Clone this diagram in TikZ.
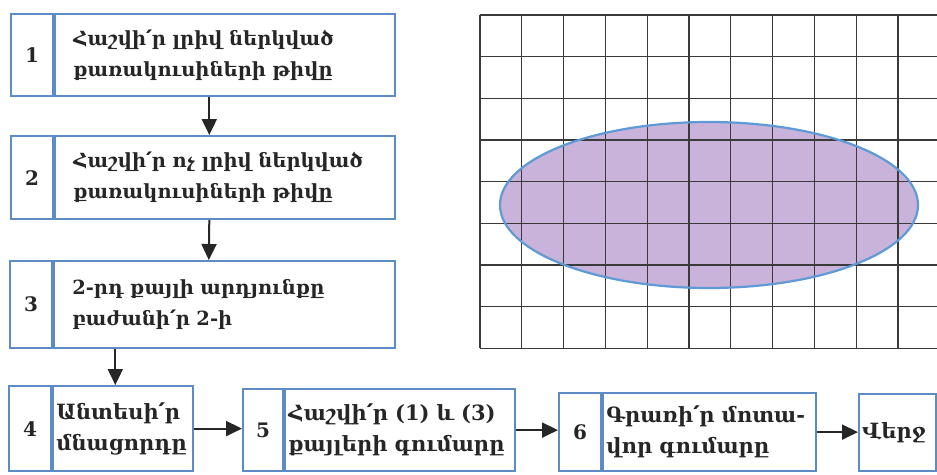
\documentclass[tikz,border=0pt]{standalone}
\usepackage{fontspec}
\setmainfont{DejaVu Serif}
\usepackage{tikz}
\usetikzlibrary{arrows.meta,positioning}
\definecolor{boxblue}{HTML}{5B8CC8}
\definecolor{ink}{HTML}{262626}
\definecolor{gridink}{HTML}{3A3A3A}
\definecolor{blobfill}{HTML}{C9B3DA}
\definecolor{blobline}{HTML}{5E9AD6}

\begin{document}
\begin{tikzpicture}[x=1pt,y=-1pt,
  numbox/.style={draw=boxblue,fill=white,line width=2.2pt,inner sep=0pt,
    font=\fontsize{20}{31}\selectfont\bfseries,text=ink},
  txtbox/.style={draw=boxblue,fill=white,line width=2.2pt,inner ysep=0pt,
    align=left,font=\fontsize{19.5}{31}\selectfont\bfseries,text=ink},
  lowbox/.style={txtbox,inner xsep=3pt,font=\fontsize{21}{31}\selectfont\bfseries},
  flow/.style={ink,line width=2pt,-{Triangle[length=16pt,width=15pt]}}]
  \useasboundingbox (0,0) rectangle (937,474);
  % squared paper with the blot
  \fill[blobfill] (709,205) ellipse [x radius=209,y radius=83];
  \foreach \i in {0,...,10}
    \draw[gridink,line width=1.3pt] (480+\i*41.8,15) -- (480+\i*41.8,348);
  \foreach \j in {0,...,8}
    \draw[gridink,line width=1.3pt] (480,15+\j*41.67) -- (937,15+\j*41.67);
  \draw[blobline,line width=2.2pt] (709,205) ellipse [x radius=209,y radius=83];
  % steps
  \node[numbox,minimum width=42pt,minimum height=82pt,anchor=north west] (n1) at (10,13) {1};
  \node[txtbox,text width=304pt,inner xsep=18pt,minimum height=82pt,right=0pt of n1] (s1)
    {Հաշվի՛ր լրիվ ներկված\\քառակուսիների թիվը};
  \node[numbox,minimum width=42pt,minimum height=83pt,anchor=north west] (n2) at (10,135) {2};
  \node[txtbox,text width=304pt,inner xsep=18pt,minimum height=83pt,right=0pt of n2] (s2)
    {Հաշվի՛ր ոչ լրիվ ներկված\\քառակուսիների թիվը};
  \node[numbox,minimum width=42pt,minimum height=87pt,anchor=north west] (n3) at (9,260) {3};
  \node[txtbox,text width=305pt,inner xsep=18pt,minimum height=87pt,right=0pt of n3] (s3)
    {2-րդ քայլի արդյունքը\\բաժանի՛ր 2-ի};
  \node[numbox,minimum width=42pt,minimum height=85pt,anchor=north west] (n4) at (8,385) {4};
  \node[lowbox,text width=134pt,minimum height=85pt,right=0pt of n4] (s4)
    {Անտեսի՛ր\\մնացորդը};
  \node[numbox,minimum width=40pt,minimum height=82pt,anchor=north west] (n5) at (242,388) {5};
  \node[lowbox,text width=224pt,minimum height=82pt,right=0pt of n5] (s5)
    {Հաշվի՛ր (1) և (3)\\քայլերի գումարը};
  \node[numbox,minimum width=42pt,minimum height=78pt,anchor=north west] (n6) at (558,392) {6};
  \node[lowbox,text width=207pt,minimum height=78pt,right=0pt of n6] (s6)
    {Գրառի՛ր մոտա-\\վոր գումարը};
  \node[lowbox,text width=71pt,minimum height=77pt,anchor=north west] (end) at (858,393)
    {Վերջ};
  % connectors
  \draw[flow] ([xshift=-16pt]s1.south) -- ([xshift=-16pt]s2.north);
  \draw[flow] ([xshift=-16pt]s2.south) -- ([xshift=-16pt]s3.north);
  \draw[flow] ([xshift=-8pt]s3.south -| s4.north) -- ([xshift=-8pt]s4.north);
  \draw[flow] (s4.east) -- (s4.east -| n5.west);
  \draw[flow] (s5.east) -- (s5.east -| n6.west);
  \draw[flow] (s6.east) -- (s6.east -| end.west);
\end{tikzpicture}
\end{document}
